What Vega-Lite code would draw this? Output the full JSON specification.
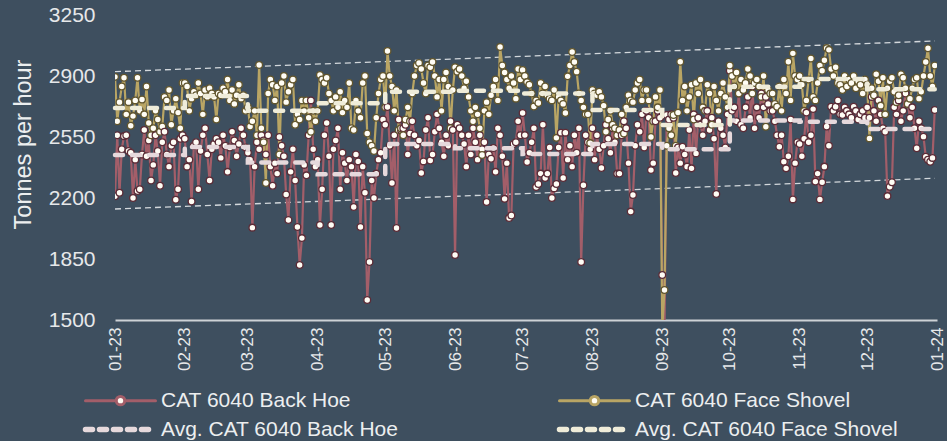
{
"$schema": "https://vega.github.io/schema/vega-lite/v6.json",
"width": 822, "height": 305,
"autosize": {"type": "none"},
"padding": {"left": 115, "top": 15, "right": 10, "bottom": 121},
"background": "#3e4f5f",
"config": {"view": {"stroke": null}, "font": "Liberation Sans"},
"datasets": {
"trend": [
{"d":"2023-01-01","g":"up","v":2925},{"d":"2023-12-31","g":"up","v":3101},
{"d":"2023-01-01","g":"lo","v":2137},{"d":"2023-12-31","g":"lo","v":2313}
],
"avg": [
{"d":"2023-01-01","s":"ab","v":2447},{"d":"2023-02-01","s":"ab","v":2493},{"d":"2023-03-01","s":"ab","v":2403},{"d":"2023-04-01","s":"ab","v":2336},{"d":"2023-05-01","s":"ab","v":2510},{"d":"2023-06-01","s":"ab","v":2485},{"d":"2023-07-01","s":"ab","v":2452},{"d":"2023-08-01","s":"ab","v":2510},{"d":"2023-09-01","s":"ab","v":2479},{"d":"2023-10-01","s":"ab","v":2644},{"d":"2023-11-01","s":"ab","v":2638},{"d":"2023-12-01","s":"ab","v":2596},{"d":"2023-12-31","s":"ab","v":2596},
{"d":"2023-01-01","s":"af","v":2716},{"d":"2023-02-01","s":"af","v":2785},{"d":"2023-03-01","s":"af","v":2700},{"d":"2023-04-01","s":"af","v":2743},{"d":"2023-05-01","s":"af","v":2810},{"d":"2023-06-01","s":"af","v":2816},{"d":"2023-07-01","s":"af","v":2800},{"d":"2023-08-01","s":"af","v":2705},{"d":"2023-09-01","s":"af","v":2619},{"d":"2023-10-01","s":"af","v":2839},{"d":"2023-11-01","s":"af","v":2883},{"d":"2023-12-01","s":"af","v":2824},{"d":"2023-12-31","s":"af","v":2824}
],
"daily": [
{"d":"2023-01-01","b":2210,"f":2895},{"d":"2023-01-02","b":2560,"f":2640},{"d":"2023-01-03","b":2230,"f":2750},{"d":"2023-01-04","b":2480,"f":2840},{"d":"2023-01-05","b":2555,"f":2890},{"d":"2023-01-06","b":2560,"f":2680},{"d":"2023-01-07","b":2470,"f":2750},{"d":"2023-01-08","b":2460,"f":2615},{"d":"2023-01-09","b":2200,"f":2670},{"d":"2023-01-10","b":2420,"f":2760},{"d":"2023-01-11","b":2240,"f":2890},{"d":"2023-01-12","b":2250,"f":2700},{"d":"2023-01-13","b":2450,"f":2765},{"d":"2023-01-14","b":2590,"f":2680},{"d":"2023-01-15","b":2440,"f":2840},{"d":"2023-01-16","b":2530,"f":2630},{"d":"2023-01-17","b":2300,"f":2560},{"d":"2023-01-18","b":2390,"f":2600},{"d":"2023-01-19","b":2560,"f":2700},{"d":"2023-01-20","b":2470,"f":2650},{"d":"2023-01-21","b":2270,"f":2580},{"d":"2023-01-22","b":2520,"f":2610},{"d":"2023-01-23","b":2580,"f":2780},{"d":"2023-01-24","b":2450,"f":2760},{"d":"2023-01-25","b":2380,"f":2820},{"d":"2023-01-26","b":2500,"f":2620},{"d":"2023-01-27","b":2520,"f":2700},{"d":"2023-01-28","b":2190,"f":2770},{"d":"2023-01-29","b":2250,"f":2690},{"d":"2023-01-30","b":2540,"f":2600},{"d":"2023-01-31","b":2560,"f":2860},
{"d":"2023-02-01","b":2540,"f":2860},{"d":"2023-02-02","b":2380,"f":2840},{"d":"2023-02-03","b":2420,"f":2700},{"d":"2023-02-04","b":2180,"f":2770},{"d":"2023-02-05","b":2500,"f":2810},{"d":"2023-02-06","b":2520,"f":2790},{"d":"2023-02-07","b":2250,"f":2860},{"d":"2023-02-08","b":2470,"f":2800},{"d":"2023-02-09","b":2560,"f":2680},{"d":"2023-02-10","b":2600,"f":2820},{"d":"2023-02-11","b":2450,"f":2780},{"d":"2023-02-12","b":2300,"f":2830},{"d":"2023-02-13","b":2480,"f":2800},{"d":"2023-02-14","b":2510,"f":2780},{"d":"2023-02-15","b":2540,"f":2650},{"d":"2023-02-16","b":2520,"f":2800},{"d":"2023-02-17","b":2430,"f":2790},{"d":"2023-02-18","b":2560,"f":2830},{"d":"2023-02-19","b":2500,"f":2810},{"d":"2023-02-20","b":2350,"f":2880},{"d":"2023-02-21","b":2490,"f":2760},{"d":"2023-02-22","b":2580,"f":2820},{"d":"2023-02-23","b":2530,"f":2740},{"d":"2023-02-24","b":2440,"f":2790},{"d":"2023-02-25","b":2510,"f":2850},{"d":"2023-02-26","b":2600,"f":2770},{"d":"2023-02-27","b":2560,"f":2790},{"d":"2023-02-28","b":2490,"f":2700},
{"d":"2023-03-01","b":2460,"f":2720},{"d":"2023-03-02","b":2420,"f":2610},{"d":"2023-03-03","b":2030,"f":2640},{"d":"2023-03-04","b":2380,"f":2700},{"d":"2023-03-05","b":2520,"f":2560},{"d":"2023-03-06","b":2480,"f":2963},{"d":"2023-03-07","b":2560,"f":2600},{"d":"2023-03-08","b":2530,"f":2520},{"d":"2023-03-09","b":2450,"f":2286},{"d":"2023-03-10","b":2560,"f":2800},{"d":"2023-03-11","b":2380,"f":2880},{"d":"2023-03-12","b":2270,"f":2850},{"d":"2023-03-13","b":2400,"f":2760},{"d":"2023-03-14","b":2340,"f":2840},{"d":"2023-03-15","b":2550,"f":2450},{"d":"2023-03-16","b":2500,"f":2860},{"d":"2023-03-17","b":2440,"f":2900},{"d":"2023-03-18","b":2220,"f":2750},{"d":"2023-03-19","b":2074,"f":2810},{"d":"2023-03-20","b":2350,"f":2850},{"d":"2023-03-21","b":2480,"f":2880},{"d":"2023-03-22","b":2300,"f":2620},{"d":"2023-03-23","b":2034,"f":2680},{"d":"2023-03-24","b":1816,"f":2650},{"d":"2023-03-25","b":1970,"f":2760},{"d":"2023-03-26","b":2390,"f":2700},{"d":"2023-03-27","b":2330,"f":2760},{"d":"2023-03-28","b":2560,"f":2660},{"d":"2023-03-29","b":2760,"f":2580},{"d":"2023-03-30","b":2480,"f":2700},{"d":"2023-03-31","b":2380,"f":2640},
{"d":"2023-04-01","b":2420,"f":2700},{"d":"2023-04-02","b":2045,"f":2906},{"d":"2023-04-03","b":2250,"f":2880},{"d":"2023-04-04","b":2560,"f":2860},{"d":"2023-04-05","b":2630,"f":2890},{"d":"2023-04-06","b":2440,"f":2800},{"d":"2023-04-07","b":2045,"f":2760},{"d":"2023-04-08","b":2480,"f":2700},{"d":"2023-04-09","b":2530,"f":2780},{"d":"2023-04-10","b":2600,"f":2720},{"d":"2023-04-11","b":2250,"f":2810},{"d":"2023-04-12","b":2460,"f":2690},{"d":"2023-04-13","b":2400,"f":2760},{"d":"2023-04-14","b":2300,"f":2720},{"d":"2023-04-15","b":2420,"f":2860},{"d":"2023-04-16","b":2380,"f":2600},{"d":"2023-04-17","b":2148,"f":2590},{"d":"2023-04-18","b":2450,"f":2760},{"d":"2023-04-19","b":2410,"f":2700},{"d":"2023-04-20","b":2034,"f":2660},{"d":"2023-04-21","b":2380,"f":2860},{"d":"2023-04-22","b":2230,"f":2900},{"d":"2023-04-23","b":1615,"f":2570},{"d":"2023-04-24","b":1833,"f":2520},{"d":"2023-04-25","b":2300,"f":2500},{"d":"2023-04-26","b":2200,"f":2470},{"d":"2023-04-27","b":2340,"f":2660},{"d":"2023-04-28","b":2420,"f":2800},{"d":"2023-04-29","b":2460,"f":2880},{"d":"2023-04-30","b":2650,"f":2900},
{"d":"2023-05-01","b":2620,"f":2720},{"d":"2023-05-02","b":2722,"f":3043},{"d":"2023-05-03","b":2500,"f":2900},{"d":"2023-05-04","b":2286,"f":2840},{"d":"2023-05-05","b":2560,"f":2700},{"d":"2023-05-06","b":2028,"f":2820},{"d":"2023-05-07","b":2650,"f":2590},{"d":"2023-05-08","b":2590,"f":2600},{"d":"2023-05-09","b":2600,"f":2560},{"d":"2023-05-10","b":2620,"f":2650},{"d":"2023-05-11","b":2450,"f":2720},{"d":"2023-05-12","b":2570,"f":2640},{"d":"2023-05-13","b":2640,"f":2800},{"d":"2023-05-14","b":2560,"f":2900},{"d":"2023-05-15","b":2500,"f":2960},{"d":"2023-05-16","b":2530,"f":2975},{"d":"2023-05-17","b":2343,"f":2940},{"d":"2023-05-18","b":2410,"f":2860},{"d":"2023-05-19","b":2590,"f":2800},{"d":"2023-05-20","b":2660,"f":2960},{"d":"2023-05-21","b":2415,"f":2950},{"d":"2023-05-22","b":2450,"f":2980},{"d":"2023-05-23","b":2580,"f":2900},{"d":"2023-05-24","b":2680,"f":2780},{"d":"2023-05-25","b":2600,"f":2880},{"d":"2023-05-26","b":2520,"f":2700},{"d":"2023-05-27","b":2440,"f":2880},{"d":"2023-05-28","b":2560,"f":2920},{"d":"2023-05-29","b":2500,"f":2840},{"d":"2023-05-30","b":2640,"f":2600},{"d":"2023-05-31","b":2590,"f":2820},
{"d":"2023-06-01","b":1873,"f":2950},{"d":"2023-06-02","b":2620,"f":2925},{"d":"2023-06-03","b":2600,"f":2940},{"d":"2023-06-04","b":2560,"f":2900},{"d":"2023-06-05","b":2510,"f":2830},{"d":"2023-06-06","b":2380,"f":2870},{"d":"2023-06-07","b":2560,"f":2780},{"d":"2023-06-08","b":2450,"f":2700},{"d":"2023-06-09","b":2600,"f":2640},{"d":"2023-06-10","b":2520,"f":2720},{"d":"2023-06-11","b":2420,"f":2680},{"d":"2023-06-12","b":2560,"f":2600},{"d":"2023-06-13","b":2480,"f":2447},{"d":"2023-06-14","b":2520,"f":2700},{"d":"2023-06-15","b":2177,"f":2750},{"d":"2023-06-16","b":2450,"f":2680},{"d":"2023-06-17","b":2425,"f":2790},{"d":"2023-06-18","b":2487,"f":2840},{"d":"2023-06-19","b":2350,"f":2880},{"d":"2023-06-20","b":2600,"f":2760},{"d":"2023-06-21","b":2560,"f":3066},{"d":"2023-06-22","b":2440,"f":2960},{"d":"2023-06-23","b":2195,"f":2920},{"d":"2023-06-24","b":2400,"f":2880},{"d":"2023-06-25","b":2085,"f":2830},{"d":"2023-06-26","b":2100,"f":2900},{"d":"2023-06-27","b":2510,"f":2860},{"d":"2023-06-28","b":2520,"f":2770},{"d":"2023-06-29","b":2640,"f":2940},{"d":"2023-06-30","b":2560,"f":2880},
{"d":"2023-07-01","b":2688,"f":2935},{"d":"2023-07-02","b":2561,"f":2900},{"d":"2023-07-03","b":2407,"f":2865},{"d":"2023-07-04","b":2460,"f":2850},{"d":"2023-07-05","b":2520,"f":2800},{"d":"2023-07-06","b":2600,"f":2725},{"d":"2023-07-07","b":2263,"f":2760},{"d":"2023-07-08","b":2280,"f":2745},{"d":"2023-07-09","b":2340,"f":2860},{"d":"2023-07-10","b":2620,"f":2800},{"d":"2023-07-11","b":2315,"f":2840},{"d":"2023-07-12","b":2340,"f":2790},{"d":"2023-07-13","b":2490,"f":2770},{"d":"2023-07-14","b":2200,"f":2760},{"d":"2023-07-15","b":2255,"f":2820},{"d":"2023-07-16","b":2280,"f":2545},{"d":"2023-07-17","b":2490,"f":2780},{"d":"2023-07-18","b":2575,"f":2760},{"d":"2023-07-19","b":2315,"f":2740},{"d":"2023-07-20","b":2575,"f":2688},{"d":"2023-07-21","b":2420,"f":2898},{"d":"2023-07-22","b":2500,"f":2960},{"d":"2023-07-23","b":2380,"f":3038},{"d":"2023-07-24","b":2560,"f":2980},{"d":"2023-07-25","b":2460,"f":2925},{"d":"2023-07-26","b":2600,"f":2800},{"d":"2023-07-27","b":1833,"f":2760},{"d":"2023-07-28","b":2273,"f":2720},{"d":"2023-07-29","b":2560,"f":2680},{"d":"2023-07-30","b":2520,"f":2680},{"d":"2023-07-31","b":2480,"f":2515},
{"d":"2023-08-01","b":2600,"f":2820},{"d":"2023-08-02","b":2420,"f":2800},{"d":"2023-08-03","b":2560,"f":2790},{"d":"2023-08-04","b":2480,"f":2810},{"d":"2023-08-05","b":2372,"f":2780},{"d":"2023-08-06","b":2500,"f":2730},{"d":"2023-08-07","b":2620,"f":2580},{"d":"2023-08-08","b":2540,"f":2650},{"d":"2023-08-09","b":2460,"f":2700},{"d":"2023-08-10","b":2600,"f":2620},{"d":"2023-08-11","b":2520,"f":2600},{"d":"2023-08-12","b":2340,"f":2560},{"d":"2023-08-13","b":2340,"f":2590},{"d":"2023-08-14","b":2560,"f":2680},{"d":"2023-08-15","b":2640,"f":2570},{"d":"2023-08-16","b":2600,"f":2720},{"d":"2023-08-17","b":2400,"f":2790},{"d":"2023-08-18","b":2122,"f":2760},{"d":"2023-08-19","b":2217,"f":2750},{"d":"2023-08-20","b":2500,"f":2820},{"d":"2023-08-21","b":2620,"f":2860},{"d":"2023-08-22","b":2580,"f":2880},{"d":"2023-08-23","b":2680,"f":2760},{"d":"2023-08-24","b":2490,"f":2820},{"d":"2023-08-25","b":2700,"f":2820},{"d":"2023-08-26","b":2660,"f":2760},{"d":"2023-08-27","b":2360,"f":2550},{"d":"2023-08-28","b":2400,"f":2640},{"d":"2023-08-29","b":2640,"f":2780},{"d":"2023-08-30","b":2700,"f":2720},{"d":"2023-08-31","b":2660,"f":2820},
{"d":"2023-09-01","b":1758,"f":1450},{"d":"2023-09-02","b":1450,"f":1672},{"d":"2023-09-03","b":2676,"f":2500},{"d":"2023-09-04","b":2650,"f":2600},{"d":"2023-09-05","b":2680,"f":2560},{"d":"2023-09-06","b":2660,"f":2676},{"d":"2023-09-07","b":2343,"f":2500},{"d":"2023-09-08","b":2490,"f":2690},{"d":"2023-09-09","b":2400,"f":2982},{"d":"2023-09-10","b":2494,"f":2760},{"d":"2023-09-11","b":2450,"f":2840},{"d":"2023-09-12","b":2380,"f":2700},{"d":"2023-09-13","b":2590,"f":2780},{"d":"2023-09-14","b":2370,"f":2850},{"d":"2023-09-15","b":2680,"f":2650},{"d":"2023-09-16","b":2456,"f":2860},{"d":"2023-09-17","b":2660,"f":2800},{"d":"2023-09-18","b":2620,"f":2880},{"d":"2023-09-19","b":2560,"f":2720},{"d":"2023-09-20","b":2640,"f":2700},{"d":"2023-09-21","b":2700,"f":2850},{"d":"2023-09-22","b":2590,"f":2800},{"d":"2023-09-23","b":2660,"f":2620},{"d":"2023-09-24","b":2540,"f":2840},{"d":"2023-09-25","b":2223,"f":2760},{"d":"2023-09-26","b":2640,"f":2700},{"d":"2023-09-27","b":2600,"f":2800},{"d":"2023-09-28","b":2560,"f":2860},{"d":"2023-09-29","b":2490,"f":2780},{"d":"2023-09-30","b":2680,"f":2720},
{"d":"2023-10-01","b":2930,"f":2960},{"d":"2023-10-02","b":2700,"f":2900},{"d":"2023-10-03","b":2720,"f":2840},{"d":"2023-10-04","b":2640,"f":2920},{"d":"2023-10-05","b":2800,"f":2800},{"d":"2023-10-06","b":2620,"f":2880},{"d":"2023-10-07","b":2600,"f":2820},{"d":"2023-10-08","b":2720,"f":2860},{"d":"2023-10-09","b":2780,"f":2940},{"d":"2023-10-10","b":2660,"f":2900},{"d":"2023-10-11","b":2840,"f":2800},{"d":"2023-10-12","b":2600,"f":2860},{"d":"2023-10-13","b":2720,"f":2880},{"d":"2023-10-14","b":2660,"f":2840},{"d":"2023-10-15","b":2800,"f":2780},{"d":"2023-10-16","b":2720,"f":2900},{"d":"2023-10-17","b":2780,"f":2609},{"d":"2023-10-18","b":2740,"f":2820},{"d":"2023-10-19","b":2700,"f":2800},{"d":"2023-10-20","b":2700,"f":2800},{"d":"2023-10-21","b":2640,"f":2740},{"d":"2023-10-22","b":2560,"f":2724},{"d":"2023-10-23","b":2494,"f":2840},{"d":"2023-10-24","b":2560,"f":2700},{"d":"2023-10-25","b":2408,"f":2880},{"d":"2023-10-26","b":2370,"f":2800},{"d":"2023-10-27","b":2440,"f":2982},{"d":"2023-10-28","b":2650,"f":2760},{"d":"2023-10-29","b":2192,"f":3030},{"d":"2023-10-30","b":2400,"f":2900},{"d":"2023-10-31","b":2520,"f":2880},
{"d":"2023-11-01","b":2510,"f":2900},{"d":"2023-11-02","b":2440,"f":2850},{"d":"2023-11-03","b":2540,"f":2700},{"d":"2023-11-04","b":2690,"f":2760},{"d":"2023-11-05","b":2520,"f":2880},{"d":"2023-11-06","b":2560,"f":3000},{"d":"2023-11-07","b":2710,"f":2780},{"d":"2023-11-08","b":2294,"f":2760},{"d":"2023-11-09","b":2340,"f":2860},{"d":"2023-11-10","b":2192,"f":2960},{"d":"2023-11-11","b":2290,"f":2930},{"d":"2023-11-12","b":2380,"f":2990},{"d":"2023-11-13","b":2610,"f":3060},{"d":"2023-11-14","b":2500,"f":3050},{"d":"2023-11-15","b":2724,"f":2940},{"d":"2023-11-16","b":2700,"f":2900},{"d":"2023-11-17","b":2724,"f":2950},{"d":"2023-11-18","b":2760,"f":2860},{"d":"2023-11-19","b":2680,"f":2850},{"d":"2023-11-20","b":2676,"f":2820},{"d":"2023-11-21","b":2720,"f":2900},{"d":"2023-11-22","b":2700,"f":2840},{"d":"2023-11-23","b":2680,"f":2880},{"d":"2023-11-24","b":2660,"f":2860},{"d":"2023-11-25","b":2724,"f":2900},{"d":"2023-11-26","b":2700,"f":2830},{"d":"2023-11-27","b":2650,"f":2870},{"d":"2023-11-28","b":2680,"f":2850},{"d":"2023-11-29","b":2700,"f":2800},{"d":"2023-11-30","b":2660,"f":2880},
{"d":"2023-12-01","b":2720,"f":2850},{"d":"2023-12-02","b":2660,"f":2542},{"d":"2023-12-03","b":2780,"f":2830},{"d":"2023-12-04","b":2700,"f":2790},{"d":"2023-12-05","b":2640,"f":2910},{"d":"2023-12-06","b":2760,"f":2870},{"d":"2023-12-07","b":2680,"f":2730},{"d":"2023-12-08","b":2600,"f":2890},{"d":"2023-12-09","b":2580,"f":2680},{"d":"2023-12-10","b":2211,"f":2830},{"d":"2023-12-11","b":2265,"f":2870},{"d":"2023-12-12","b":2290,"f":2890},{"d":"2023-12-13","b":2720,"f":2810},{"d":"2023-12-14","b":2680,"f":2750},{"d":"2023-12-15","b":2760,"f":2790},{"d":"2023-12-16","b":2640,"f":2910},{"d":"2023-12-17","b":2700,"f":2890},{"d":"2023-12-18","b":2800,"f":2830},{"d":"2023-12-19","b":2740,"f":2740},{"d":"2023-12-20","b":2660,"f":2770},{"d":"2023-12-21","b":2720,"f":2830},{"d":"2023-12-22","b":2600,"f":2880},{"d":"2023-12-23","b":2485,"f":2890},{"d":"2023-12-24","b":2640,"f":2770},{"d":"2023-12-25","b":2600,"f":2810},{"d":"2023-12-26","b":2552,"f":2900},{"d":"2023-12-27","b":2437,"f":2980},{"d":"2023-12-28","b":2420,"f":3059},{"d":"2023-12-29","b":2408,"f":2900},{"d":"2023-12-30","b":2430,"f":2840},{"d":"2023-12-31","b":2705,"f":2960}
]
},
"encoding": {
"x": {"field": "d", "type": "temporal", "title": null,
 "scale": {"type": "utc", "domain": [{"year": 2023, "month": 1, "date": 1, "utc": true}, {"year": 2024, "month": 1, "date": 1, "utc": true}]},
 "axis": {"values": [
  {"year": 2023, "month": 1, "date": 1, "utc": true},{"year": 2023, "month": 2, "date": 1, "utc": true},{"year": 2023, "month": 3, "date": 1, "utc": true},{"year": 2023, "month": 4, "date": 1, "utc": true},{"year": 2023, "month": 5, "date": 1, "utc": true},{"year": 2023, "month": 6, "date": 1, "utc": true},{"year": 2023, "month": 7, "date": 1, "utc": true},{"year": 2023, "month": 8, "date": 1, "utc": true},{"year": 2023, "month": 9, "date": 1, "utc": true},{"year": 2023, "month": 10, "date": 1, "utc": true},{"year": 2023, "month": 11, "date": 1, "utc": true},{"year": 2023, "month": 12, "date": 1, "utc": true},{"year": 2024, "month": 1, "date": 1, "utc": true}],
  "labelExpr": "utcFormat(datum.value, '%m-%y')", "labelAngle": -90, "labelFontSize": 17, "labelColor": "#e6e8ea",
  "labelPadding": 7, "ticks": false, "grid": false, "domainColor": "#cdd2d6", "domainWidth": 2,
  "labelOverlap": false, "labelFlush": false, "labelBound": false}},
"y": {"field": "v", "type": "quantitative",
 "scale": {"domain": [1500, 3250], "nice": false, "zero": false},
 "axis": {"values": [1500, 1850, 2200, 2550, 2900, 3250], "format": "d", "title": "Tonnes per hour", "grid": false, "domain": false, "ticks": false,
  "labelFontSize": 21, "labelColor": "#e6e8ea", "labelPadding": 20,
  "titleFontSize": 23.5, "titleColor": "#eceeef", "titleFontWeight": "normal", "titleAngle": -90,
  "titleX": -92, "titleY": 129, "titleAlign": "center", "titleBaseline": "middle"}}
},
"layer": [
{"data": {"name": "trend"},
 "mark": {"type": "line", "strokeDash": [6, 4], "strokeWidth": 1.3, "color": "#d3d8dc"},
 "encoding": {"detail": {"field": "g", "type": "nominal"}}},
{"data": {"name": "daily"},
 "transform": [{"fold": ["b", "f"], "as": ["k", "v"]}],
 "layer": [
 {"mark": {"type": "line", "strokeWidth": 2.2, "clip": true},
  "encoding": {"color": {"field": "k", "type": "nominal",
   "scale": {"domain": ["b", "ab", "f", "af"], "range": ["#a35e69", "#e6d9dc", "#b9a564", "#efecd9"]},
   "legend": {"title": null, "orient": "none", "legendX": -5, "legendY": 375, "columns": 2, "columnPadding": 149, "rowPadding": 7, "padding": 0,
    "symbolSize": 4900, "labelFontSize": 21, "labelColor": "#eceeef", "labelOffset": 30, "labelLimit": 400,
    "labelExpr": "datum.value == 'b' ? 'CAT 6040 Back Hoe' : datum.value == 'f' ? 'CAT 6040 Face Shovel' : datum.value == 'ab' ? 'Avg. CAT 6040 Back Hoe' : 'Avg. CAT 6040 Face Shovel'",
    "encode": {"symbols": {"update": {
     "shape": {"signal": "(datum.value == 'ab' || datum.value == 'af') ? 'M-1,0H1' : 'M-1,0H-0.13M0.13,0H1M0.12,0A0.12,0.12,0,1,1,-0.12,0A0.12,0.12,0,1,1,0.12,0Z'"},
     "strokeDash": {"signal": "(datum.value == 'ab' || datum.value == 'af') ? [7, 7] : []"},
     "strokeWidth": {"signal": "(datum.value == 'ab' || datum.value == 'af') ? 5.5 : 3"},
     "strokeCap": {"value": "round"},
     "fill": {"value": "#fffdf5"},
     "fillOpacity": {"value": 1},
     "opacity": {"value": 1}}}}}}}},
 {"mark": {"type": "point", "shape": "circle", "filled": true, "fill": "#fffdf5", "size": 45, "strokeWidth": 1.3, "opacity": 1, "clip": true},
  "encoding": {"stroke": {"field": "k", "type": "nominal", "scale": {"domain": ["b", "f"], "range": ["#5b2c37", "#62562e"]}, "legend": null}}}
 ]},
{"data": {"name": "avg"},
 "mark": {"type": "line", "interpolate": "step-after", "strokeDash": [8, 9], "strokeCap": "round", "strokeWidth": 4.5},
 "encoding": {"color": {"field": "s", "type": "nominal"}}}
]
}
